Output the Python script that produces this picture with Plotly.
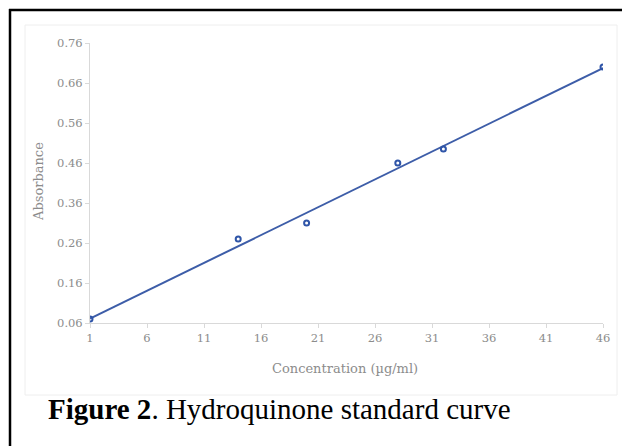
import numpy as np
import plotly.graph_objects as go

# Data
concentration = [1, 14, 20, 28, 32, 46]
absorbance = [0.07, 0.27, 0.31, 0.46, 0.495, 0.70]
x_ticks = [1, 6, 11, 16, 21, 26, 31, 36, 41, 46]
y_ticks = [0.06, 0.16, 0.26, 0.36, 0.46, 0.56, 0.66, 0.76]
y_tick_labels = ["0.06", "0.16", "0.26", "0.36", "0.46", "0.56", "0.66", "0.76"]

# Linear trendline fitted to the data
slope, intercept = np.polyfit(concentration, absorbance, 1)
fit_x = [concentration[0], concentration[-1]]
fit_y = [slope * v + intercept for v in fit_x]

OFF = 8  # page body margin
W, H = 630 - OFF, 446 - OFF
# plot area in page pixels: x 90..603, y 43..323
L, T = 90 - OFF, 43 - OFF
R = W - (603 - OFF)
B = H - (323 - OFF)
pw, ph = W - L - R, H - T - B

def px(xp):
    return (xp - OFF - L) / pw

def py(yp):
    return (H - B - (yp - OFF)) / ph

line_color = "#3d5da8"
grey = "#8c8c8c"
serif = "DejaVu Serif, Liberation Serif, serif"
times = "Liberation Serif, Times New Roman, serif"

fig = go.Figure()
fig.add_trace(go.Scatter(x=fit_x, y=fit_y, mode="lines",
                         line=dict(color=line_color, width=2), showlegend=False))
fig.add_trace(go.Scatter(x=concentration, y=absorbance, mode="markers",
                         marker=dict(color="#2f55a8", size=5, symbol="circle-open",
                                     line=dict(width=2, color="#2f55a8")),
                         showlegend=False))

fig.update_layout(
    width=W, height=H,
    margin=dict(l=L, r=R, t=T, b=B),
    paper_bgcolor="white", plot_bgcolor="white",
    font=dict(family=serif, size=11, color=grey),
    xaxis=dict(range=[1, 46], tickvals=x_ticks, showgrid=False, zeroline=False,
               showline=True, linecolor="#d9d9d9", linewidth=1,
               ticks="outside", ticklen=4, tickcolor="#d9d9d9",
               tickfont=dict(family=serif, size=11.5, color=grey)),
    yaxis=dict(range=[0.06, 0.76], tickvals=y_ticks, ticktext=y_tick_labels,
               showgrid=False, zeroline=False,
               showline=True, linecolor="#d9d9d9", linewidth=1,
               ticks="outside", ticklen=4, tickcolor="#d9d9d9",
               tickfont=dict(family=serif, size=11.5, color=grey)),
)

shapes = [
    # faint chart picture box
    dict(type="rect", xref="paper", yref="paper",
         x0=px(25), x1=px(617), y0=py(395), y1=py(25),
         line=dict(color="#eeeeee", width=1), layer="below"),
    # outer black frame (left and top)
    dict(type="line", xref="paper", yref="paper",
         x0=px(10), x1=px(10), y0=py(446), y1=py(9),
         line=dict(color="black", width=2.5)),
    dict(type="line", xref="paper", yref="paper",
         x0=px(9), x1=px(630), y0=py(10), y1=py(10),
         line=dict(color="black", width=2.5)),
]
fig.update_layout(shapes=shapes)

# axis titles
fig.add_annotation(xref="paper", yref="paper", x=px(345), y=py(368),
                   xanchor="center", yanchor="middle", showarrow=False,
                   text="Concentration (µg/ml)",
                   font=dict(family=serif, size=13, color=grey))
fig.add_annotation(xref="paper", yref="paper", x=px(38), y=py(182),
                   xanchor="center", yanchor="middle", showarrow=False,
                   textangle=-90, text="Absorbance",
                   font=dict(family=serif, size=13, color=grey))

# caption
fig.add_annotation(xref="paper", yref="paper", x=px(46), y=py(409),
                   xanchor="left", yanchor="middle", showarrow=False,
                   text="<b>Figure 2</b>. Hydroquinone standard curve",
                   font=dict(family=times, size=29, color="black"))

fig.write_html("out.html")
